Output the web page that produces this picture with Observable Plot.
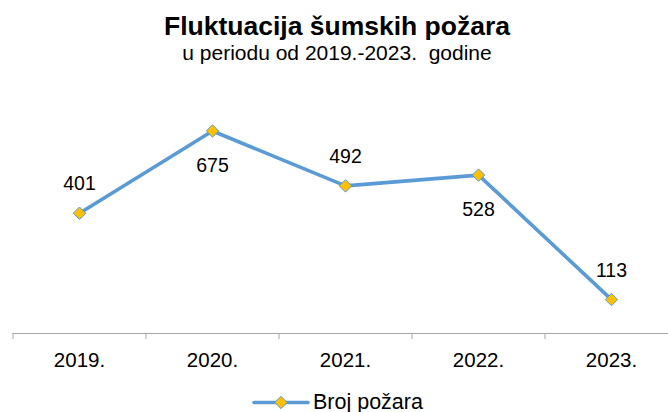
<!DOCTYPE html>
<html>
<head>
<meta charset="utf-8">
<script src="https://cdn.jsdelivr.net/npm/d3@7"></script>
<script src="https://cdn.jsdelivr.net/npm/@observablehq/plot@0.6"></script>
<style>
  body { margin: 0; background: #fff; font-family: "Liberation Sans", Arial, sans-serif; }
  #wrap { position: relative; width: 668px; height: 412px; overflow: hidden; }
  #title { position: absolute; left: 3px; width: 668px; top: 13px; text-align: center; font-weight: bold; font-size: 26.5px; line-height: 26px; color: #000; }
  #subtitle { position: absolute; left: 3px; width: 668px; top: 42px; text-align: center; font-size: 21px; line-height: 21px; color: #000; white-space: pre; }
  #chart { position: absolute; left: 0; top: 70px; }
  #legend { position: absolute; left: 252px; top: 390px; height: 24px; display: flex; align-items: center; font-size: 21.5px; color: #000; }
  #legend span { margin-left: 3px; }
</style>
</head>
<body>
<div id="wrap">
  <div id="title">Fluktuacija šumskih požara</div>
  <div id="subtitle">u periodu od 2019.-2023.  godine</div>
  <div id="chart"></div>
  <div id="legend"></div>
</div>
<script>
const years = ["2019.", "2020.", "2021.", "2022.", "2023."];
const fires = [401, 675, 492, 528, 113];
const labelSide = ["above", "below", "above", "below", "above"];
const seriesName = "Broj požara";

const lineColor = "#5B9BD5";
const markerFill = "#FFC000";

const data = years.map((y, i) => ({ i, year: y, value: fires[i], side: labelSide[i] }));
const boundaries = years.map((y, i) => i - 0.5);

const plot = Plot.plot({
  width: 668,
  height: 310,
  marginLeft: 12.5,
  marginRight: 0,
  marginTop: 23,
  marginBottom: 47,
  style: { fontFamily: '"Liberation Sans", Arial, sans-serif', background: "transparent" },
  x: { type: "linear", domain: [-0.5, years.length - 0.5], range: [12.5, 677.5], axis: null, label: null },
  y: { domain: [0, 800], axis: null, label: null },
  marks: [
    Plot.ruleY([0], { stroke: "#a6a6a6", strokeWidth: 1 }),
    Plot.axisX(boundaries, { tickSize: 6, tickFormat: () => "", stroke: "#a6a6a6", strokeOpacity: 1, label: null }),
    Plot.axisX(data.map(d => d.i), { tickSize: 0, tickPadding: 19, tickFormat: i => years[i], fontSize: 20.5, fill: "#000", label: null }),
    Plot.line(data, { x: "i", y: "value", stroke: lineColor, strokeWidth: 3.6 }),
    Plot.dot(data, { x: "i", y: "value", symbol: "diamond2", r: 5.6, fill: markerFill, stroke: lineColor, strokeWidth: 1 }),
    Plot.text(data.filter(d => d.side === "above"), { x: "i", y: "value", text: d => String(d.value), dy: -29, fontSize: 19.5, fill: "#000" }),
    Plot.text(data.filter(d => d.side === "below"), { x: "i", y: "value", text: d => String(d.value), dy: 35, fontSize: 19.5, fill: "#000" })
  ]
});
document.getElementById("chart").appendChild(plot);

const legend = document.getElementById("legend");
legend.innerHTML = `<svg width="58" height="24" viewBox="0 0 58 24">
  <line x1="2" y1="12.5" x2="56" y2="12.5" stroke="${lineColor}" stroke-width="3.6" stroke-linecap="round"/>
  <polygon points="29,6.3 35.2,12.5 29,18.7 22.8,12.5" fill="${markerFill}" stroke="${lineColor}" stroke-width="1"/>
</svg><span>${seriesName}</span>`;
</script>
</body>
</html>
